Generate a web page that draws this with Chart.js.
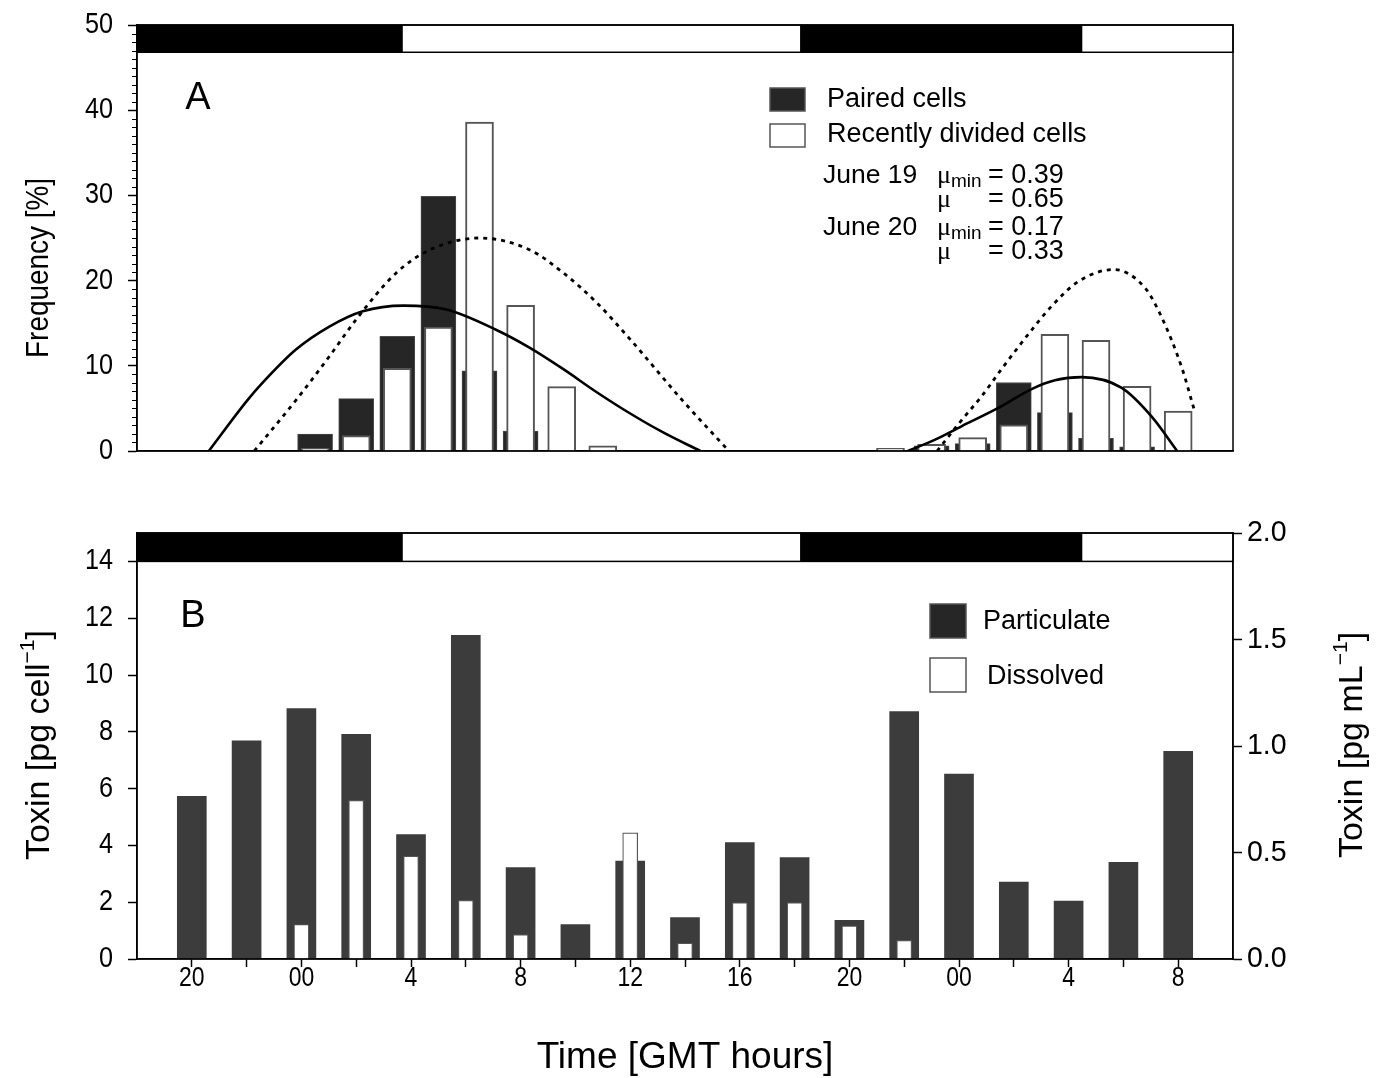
<!DOCTYPE html>
<html lang="en">
<head>
<meta charset="UTF-8">
<title>Division frequency and toxin content</title>
<script src="https://cdn.jsdelivr.net/npm/chart.js"></script>
<style>
  body { margin: 0; background: #fff; }
  #wrap { position: relative; width: 1381px; height: 1078px; }
  #wrap canvas { position: absolute; left: 0; }
</style>
</head>
<body>
<div id="wrap">
  <canvas id="freqChart" width="1381" height="480" style="top:0"></canvas>
  <canvas id="toxinChart" width="1381" height="598" style="top:480px"></canvas>
</div>
<script>
// time axis: hours elapsed since 18:00 GMT on the first evening
const START_HOUR = 18;
const HOURS_SPAN = 40;
const darkPeriods = [[0, 9.7], [24.2, 34.5]];

// panel A: division frequencies, sampled every 1.5 h
const sampleHoursA = [0.5, 2, 3.5, 5, 6.5, 8, 9.5, 11, 12.5, 14, 15.5, 17, 18.5, 20, 21.5, 23, 24.5, 26, 27.5, 29, 30.5, 32, 33.5, 35, 36.5, 38];
const pairedCells  = [0, 0, 0, 0, 2.0, 6.15, 13.45, 29.9, 9.4, 2.35, 0, 0, 0, 0, 0, 0, 0, 0, 0, 0.6, 0.86, 8.04, 4.5, 1.5, 0.5, 0];
const dividedCells = [0, 0, 0, 0, 0.3, 1.8, 9.7, 14.55, 38.6, 17.1, 7.56, 0.6, 0, 0, 0, 0, 0, 0, 0.3, 0.78, 1.57, 3.06, 13.7, 13.0, 7.6, 4.7];

// fitted division curves, [hour, %] pairs, one list per night
const fitMinNight1 = [[2.62, 0], [4.04, 6.0], [4.57, 7.96], [5.8, 11.9], [7.02, 14.6], [8.24, 16.4], [9.73, 17.06], [11.29, 16.6], [13.12, 14.2], [14.34, 12.1], [15.56, 9.6], [16.78, 6.9], [18.0, 4.4], [19.22, 2.15], [20.56, 0]];
const fitMinNight2 = [[28.13, 0], [29.11, 1.3], [30.09, 2.9], [31.4, 5.0], [32.67, 7.3], [33.5, 8.3], [34.48, 8.67], [35.94, 7.4], [37.04, 4.0], [37.96, 0]];
const fitMuNight1  = [[4.28, 0], [5.81, 6.0], [7.02, 11.1], [7.99, 15.4], [9.46, 20.9], [10.68, 23.6], [12.51, 25.0], [14.34, 23.6], [15.56, 20.9], [16.78, 17.4], [18.0, 13.1], [19.89, 6.0], [21.6, 0]];
const fitMuNight2  = [[29.2, 0], [30.09, 3.6], [30.82, 6.4], [31.55, 9.6], [32.65, 14.2], [33.38, 17.0], [34.36, 19.9], [35.64, 21.3], [36.8, 19.1], [37.41, 15.6], [38.14, 9.7], [38.57, 5.0]];

const growthRates = [
  { day: 'June 19', muMin: '0.39', mu: '0.65' },
  { day: 'June 20', muMin: '0.17', mu: '0.33' }
];

// panel B: toxin, sampled every 2 h
const sampleHoursB = [2, 4, 6, 8, 10, 12, 14, 16, 18, 20, 22, 24, 26, 28, 30, 32, 34, 36, 38];
const particulate  = [5.73, 7.68, 8.82, 7.91, 4.38, 11.4, 3.22, 1.21, 3.45, 1.46, 4.1, 3.57, 1.36, 8.71, 6.51, 2.71, 2.04, 3.40, 7.31];
const dissolved    = [null, null, 0.162, 0.745, 0.483, 0.275, 0.115, null, 0.592, 0.074, 0.265, 0.265, 0.156, 0.088, null, null, null, null, null];

const FONT = '"Liberation Sans", Arial, Helvetica, sans-serif';
const SERIF = '"Liberation Serif", "Times New Roman", serif';
Chart.defaults.font.family = FONT;
Chart.defaults.color = '#000';

function hourLabel(v) {
  const h = (START_HOUR + v) % 24;
  return h === 0 ? '00' : String(h);
}

function points(xs, ys) {
  return xs.map((x, i) => ({ x: x, y: ys[i] }));
}

function pairs(list) {
  return list.map(p => ({ x: p[0], y: p[1] }));
}

// text made of runs [{t, size, dy, font}], optionally squeezed horizontally by sx
function drawRuns(ctx, runs, x, y, align, sx) {
  sx = sx || 1;
  let total = 0;
  runs.forEach(r => {
    ctx.font = r.size + 'px ' + (r.font || FONT);
    r.w = ctx.measureText(r.t).width;
    total += r.w;
  });
  let cx = align === 'center' ? -total / 2 : align === 'right' ? -total : 0;
  ctx.save();
  ctx.translate(x, y);
  ctx.scale(sx, 1);
  ctx.textAlign = 'left';
  ctx.textBaseline = 'middle';
  runs.forEach(r => {
    ctx.font = r.size + 'px ' + (r.font || FONT);
    ctx.fillText(r.t, cx, r.dy || 0);
    cx += r.w;
  });
  ctx.restore();
}

function drawVertical(ctx, runs, x, y, sx) {
  ctx.save();
  ctx.translate(x, y);
  ctx.rotate(-Math.PI / 2);
  drawRuns(ctx, runs, 0, 0, 'center', sx);
  ctx.restore();
}

// tick labels placed from the scale's own ticks
function drawTickLabels(ctx, scale, side, gap, size, sx, format) {
  ctx.fillStyle = '#000';
  scale.ticks.forEach(t => {
    const text = format(t.value);
    if (!text) return;
    const p = scale.getPixelForValue(t.value);
    if (side === 'left') drawRuns(ctx, [{ t: text, size: size }], scale.right - gap, p, 'right', sx);
    else if (side === 'right') drawRuns(ctx, [{ t: text, size: size }], scale.left + gap, p, 'left', sx);
    else drawRuns(ctx, [{ t: text, size: size }], p, scale.top + gap, 'center', sx);
  });
}

// light/dark bar above the plot and the frame around it
function lightDarkPlugin(axisId, from, to) {
  return {
    id: 'lightDark',
    afterDraw(chart) {
      const { ctx, chartArea: a, scales } = chart;
      const xs = scales.x, ys = scales[axisId];
      const top = ys.getPixelForValue(to), bottom = ys.getPixelForValue(from);
      ctx.save();
      ctx.fillStyle = '#fff';
      ctx.fillRect(a.left, top, a.right - a.left, bottom - top);
      ctx.fillStyle = '#000';
      darkPeriods.forEach(([s, e]) => {
        const x0 = xs.getPixelForValue(s), x1 = xs.getPixelForValue(e);
        ctx.fillRect(x0, top, x1 - x0, bottom - top);
      });
      ctx.strokeStyle = '#000';
      ctx.lineWidth = 1.5;
      ctx.strokeRect(a.left, top, a.right - a.left, bottom - top);
      ctx.strokeRect(a.left, a.top, a.right - a.left, a.bottom - a.top);
      ctx.restore();
    }
  };
}

const freqText = {
  id: 'freqText',
  afterDraw(chart) {
    const ctx = chart.ctx;
    const ys = chart.scales.y;
    ctx.save();
    ctx.fillStyle = '#000';
    ctx.strokeStyle = '#000';
    // minor ticks every 1 %
    ctx.lineWidth = 1.2;
    ctx.beginPath();
    for (let v = 0; v <= 50; v++) {
      if (v % 10 === 0) continue;
      const py = Math.round(ys.getPixelForValue(v)) + 0.5;
      ctx.moveTo(ys.right - 5, py);
      ctx.lineTo(ys.right, py);
    }
    ctx.stroke();

    drawTickLabels(ctx, ys, 'left', 24, 29, 0.87, v => String(v));
    drawVertical(ctx, [{ t: 'Frequency [%]', size: 31 }], 39, 268, 0.9);
    drawRuns(ctx, [{ t: 'A', size: 38 }], 198, 99, 'center');

    // legend
    const ds = chart.data.datasets;
    ctx.lineWidth = 1.5;
    ctx.fillStyle = ds[0].backgroundColor;
    ctx.fillRect(770, 88, 35, 23);
    ctx.strokeStyle = '#555';
    ctx.strokeRect(770, 88, 35, 23);
    ctx.fillStyle = '#fff';
    ctx.fillRect(770, 124, 35, 23);
    ctx.strokeRect(770, 124, 35, 23);
    ctx.fillStyle = '#000';
    drawRuns(ctx, [{ t: ds[0].label, size: 27 }], 827, 100, 'left');
    drawRuns(ctx, [{ t: ds[1].label, size: 27 }], 827, 135, 'left');

    // growth rates
    growthRates.forEach((g, i) => {
      const y1 = 176 + i * 52, y2 = y1 + 24;
      drawRuns(ctx, [{ t: g.day, size: 26.5 }], 823, y1, 'left');
      drawRuns(ctx, [{ t: 'μ', size: 26, font: SERIF }, { t: 'min', size: 19, dy: 6 }], 937, y1, 'left');
      drawRuns(ctx, [{ t: '= ' + g.muMin, size: 27 }], 988, y1, 'left');
      drawRuns(ctx, [{ t: 'μ', size: 26, font: SERIF }], 937, y2, 'left');
      drawRuns(ctx, [{ t: '= ' + g.mu, size: 27 }], 988, y2, 'left');
    });
    ctx.restore();
  }
};

const toxinText = {
  id: 'toxinText',
  afterDraw(chart) {
    const ctx = chart.ctx;
    const s = chart.scales;
    ctx.save();
    ctx.fillStyle = '#000';
    drawTickLabels(ctx, s.y, 'left', 24, 29, 0.87, v => String(v));
    drawTickLabels(ctx, s.y2, 'right', 14, 30, 0.95, v => v.toFixed(1));
    drawTickLabels(ctx, s.x, 'bottom', 19, 28, 0.82, v => ((v - 2) % 4 === 0 ? hourLabel(v) : ''));

    drawVertical(ctx, [{ t: 'Toxin [pg cell', size: 34 }, { t: '−1', size: 21, dy: -12 }, { t: ']', size: 34 }], 40, 265);
    drawVertical(ctx, [{ t: 'Toxin [pg mL', size: 34 }, { t: '−1', size: 21, dy: -12 }, { t: ']', size: 34 }], 1353, 265);
    drawRuns(ctx, [{ t: 'Time [GMT hours]', size: 37 }], 685, 578, 'center');
    drawRuns(ctx, [{ t: 'B', size: 38 }], 193, 137, 'center');

    const ds = chart.data.datasets;
    ctx.lineWidth = 1.5;
    ctx.strokeStyle = '#555';
    ctx.fillStyle = '#262626';
    ctx.fillRect(930, 124, 36, 34);
    ctx.strokeRect(930, 124, 36, 34);
    ctx.fillStyle = '#fff';
    ctx.fillRect(930, 178, 36, 34);
    ctx.strokeRect(930, 178, 36, 34);
    ctx.fillStyle = '#000';
    drawRuns(ctx, [{ t: ds[0].label, size: 27 }], 983, 142, 'left');
    drawRuns(ctx, [{ t: ds[1].label, size: 27 }], 987, 197, 'left');
    ctx.restore();
  }
};

const axisLine = { display: true, color: '#000', width: 1.5 };
const outTicks = { drawOnChartArea: false, tickLength: 9, tickWidth: 1.5, tickColor: '#000' };

new Chart(document.getElementById('freqChart'), {
  type: 'bar',
  data: {
    datasets: [
      { label: 'Paired cells', data: points(sampleHoursA, pairedCells), backgroundColor: '#262626',
        borderColor: '#4a4a4a', borderWidth: 1, barThickness: 35, grouped: false, order: 2 },
      { label: 'Recently divided cells', data: points(sampleHoursA, dividedCells), backgroundColor: '#fff',
        borderColor: '#555', borderWidth: 2, barThickness: 28, grouped: false, order: 1 },
      { type: 'line', data: pairs(fitMinNight1), borderColor: '#000', borderWidth: 2.6, pointRadius: 0,
        cubicInterpolationMode: 'monotone', order: 0 },
      { type: 'line', data: pairs(fitMinNight2), borderColor: '#000', borderWidth: 2.6, pointRadius: 0,
        cubicInterpolationMode: 'monotone', order: 0 },
      { type: 'line', data: pairs(fitMuNight1), borderColor: '#000', borderWidth: 2.8, borderDash: [4, 5],
        pointRadius: 0, cubicInterpolationMode: 'monotone', order: 0 },
      { type: 'line', data: pairs(fitMuNight2), borderColor: '#000', borderWidth: 2.8, borderDash: [4, 5],
        pointRadius: 0, cubicInterpolationMode: 'monotone', order: 0 }
    ]
  },
  options: {
    responsive: false,
    animation: false,
    events: [],
    layout: { padding: { top: 25, right: 148, left: 0, bottom: 0 } },
    plugins: { legend: { display: false }, tooltip: { enabled: false } },
    scales: {
      x: {
        type: 'linear', min: 0, max: HOURS_SPAN, offset: false,
        grid: { display: false, offset: false },
        border: axisLine,
        ticks: { display: false },
        afterFit: s => { s.height = 29; }
      },
      y: {
        min: 0, max: 50,
        grid: outTicks,
        border: axisLine,
        ticks: { stepSize: 10, display: false },
        afterFit: s => { s.width = 137; }
      }
    }
  },
  plugins: [lightDarkPlugin('y', 46.8, 50), freqText]
});

new Chart(document.getElementById('toxinChart'), {
  type: 'bar',
  data: {
    datasets: [
      { label: 'Particulate', data: points(sampleHoursB, particulate), backgroundColor: '#3c3c3c',
        borderWidth: 0, barThickness: 29, grouped: false, order: 2, yAxisID: 'y' },
      { label: 'Dissolved', data: points(sampleHoursB, dissolved), backgroundColor: '#fff',
        borderColor: '#555', borderWidth: 1.2, barThickness: 15, grouped: false, order: 1, yAxisID: 'y2' }
    ]
  },
  options: {
    responsive: false,
    animation: false,
    events: [],
    layout: { padding: { top: 53, right: 0, left: 0, bottom: 0 } },
    plugins: { legend: { display: false }, tooltip: { enabled: false } },
    scales: {
      x: {
        type: 'linear', min: 0, max: HOURS_SPAN, offset: false,
        grid: { drawOnChartArea: false, offset: false, tickLength: 8, tickWidth: 1.5, tickColor: '#000' },
        border: axisLine,
        afterBuildTicks: s => { s.ticks = s.ticks.filter(t => t.value > 0 && t.value < HOURS_SPAN); },
        ticks: { stepSize: 2, autoSkip: false, display: false },
        afterFit: s => { s.height = 119; }
      },
      y: {
        position: 'left', min: 0, max: 15,
        grid: outTicks,
        border: axisLine,
        afterBuildTicks: s => { s.ticks = s.ticks.filter(t => t.value <= 14); },
        ticks: { stepSize: 2, display: false },
        afterFit: s => { s.width = 137; }
      },
      y2: {
        position: 'right', min: 0, max: 2,
        grid: outTicks,
        border: axisLine,
        ticks: { stepSize: 0.5, display: false },
        afterFit: s => { s.width = 148; }
      }
    }
  },
  plugins: [lightDarkPlugin('y', 14, 15), toxinText]
});
</script>
</body>
</html>
